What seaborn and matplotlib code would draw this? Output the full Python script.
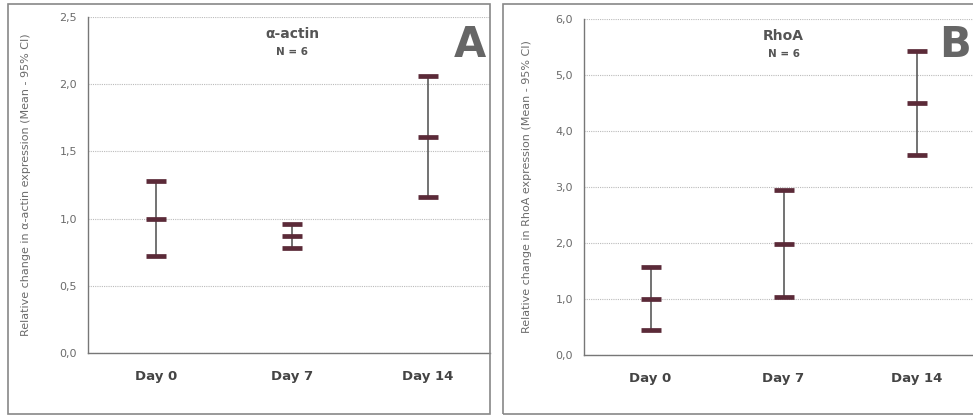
import matplotlib
matplotlib.use("Agg")
import matplotlib.pyplot as plt
import seaborn as sns
import pandas as pd
from matplotlib.patches import Rectangle

days = ["Day 0", "Day 7", "Day 14"]

# alpha-actin, mean with 95% CI
actin_mean = [1.00, 0.87, 1.61]
actin_lo = [0.72, 0.78, 1.16]
actin_hi = [1.28, 0.96, 2.06]

# RhoA, mean with 95% CI
rhoa_mean = [1.00, 1.98, 4.50]
rhoa_lo = [0.44, 1.04, 3.57]
rhoa_hi = [1.57, 2.95, 5.43]

cap_color = "#5b2a38"
stem_color = "#5a5a5a"
text_grey = "#6b6b6b"

sns.set_style("white")
plt.rcParams["font.family"] = ["DejaVu Sans"]

fig = plt.figure(figsize=(9.73, 4.18), dpi=100)
W, H = 973, 418


def panel(rect_px, ylim, step, mean, lo, hi, title, letter, ylabel, xmax, letter_x, pad):
    l, b, w, h = rect_px
    ax = fig.add_axes([l / W, b / H, w / W, h / H])
    df = pd.DataFrame({"day": days * 3,
                       "value": mean + lo + hi})
    ax.vlines(days, lo, hi, color=stem_color, lw=1.2, zorder=2)
    sns.scatterplot(data=df, x="day", y="value", marker="_", s=220,
                    linewidth=3.4, color=cap_color, ax=ax, zorder=3, legend=False)
    ax.set_xlim(-0.5, xmax)
    ax.set_ylim(*ylim)
    ticks = [i * step for i in range(int(round(ylim[1] / step)) + 1)]
    ax.set_yticks(ticks)
    ax.set_yticklabels([f"{t:.1f}".replace(".", ",") for t in ticks],
                       fontsize=8, color=text_grey)
    ax.set_xticks(range(3))
    ax.set_xticklabels(days, fontsize=9.5, fontweight="bold", color="#444444")
    ax.tick_params(axis="x", direction="inout", length=8, width=1, color="#777777", pad=8)
    ax.tick_params(axis="y", direction="out", length=4, width=1, color="#777777", pad=4)
    for t in ticks:
        ax.axhline(t, color="#bbbbbb", lw=0.8, ls=(0, (1, 1)), zorder=0)
    ax.set_xlabel("")
    ax.set_ylabel(ylabel, fontsize=8, color=text_grey, labelpad=pad)
    for s in ["top", "right"]:
        ax.spines[s].set_visible(False)
    for s in ["left", "bottom"]:
        ax.spines[s].set_color("#777777")
        ax.spines[s].set_linewidth(1)
    cx = 1.5 / (xmax + 0.5)
    ax.text(cx, 0.95, title, transform=ax.transAxes, ha="center", va="center",
            fontsize=10, fontweight="bold", color="#555555")
    ax.text(cx, 0.895, "N = 6", transform=ax.transAxes, ha="center", va="center",
            fontsize=7.5, fontweight="bold", color="#555555")
    fig.text(letter_x / W, 1 - 45 / H, letter, ha="center", va="center",
             fontsize=30, fontweight="bold", color="#666666")
    return ax


panel((88, 65, 402, 336), (0, 2.5), 0.5, actin_mean, actin_lo, actin_hi,
      "α-actin", "A", "Relative change in α-actin expression (Mean - 95% CI)",
      (490 - 88) / 136 - 0.5, 470, 20)
panel((584, 63, 389, 336), (0, 6.0), 1.0, rhoa_mean, rhoa_lo, rhoa_hi,
      "RhoA", "B", "Relative change in RhoA expression (Mean - 95% CI)",
      (973 - 584) / 133 - 0.5, 955, 17)

# panel frames
for x0, x1 in [(8, 490), (503, 975)]:
    fig.patches.append(Rectangle((x0 / W, 4 / H), (x1 - x0) / W, (414 - 4) / H,
                                 transform=fig.transFigure, fill=False,
                                 edgecolor="#888888", lw=1.2))

fig.savefig("out.png", dpi=100)
